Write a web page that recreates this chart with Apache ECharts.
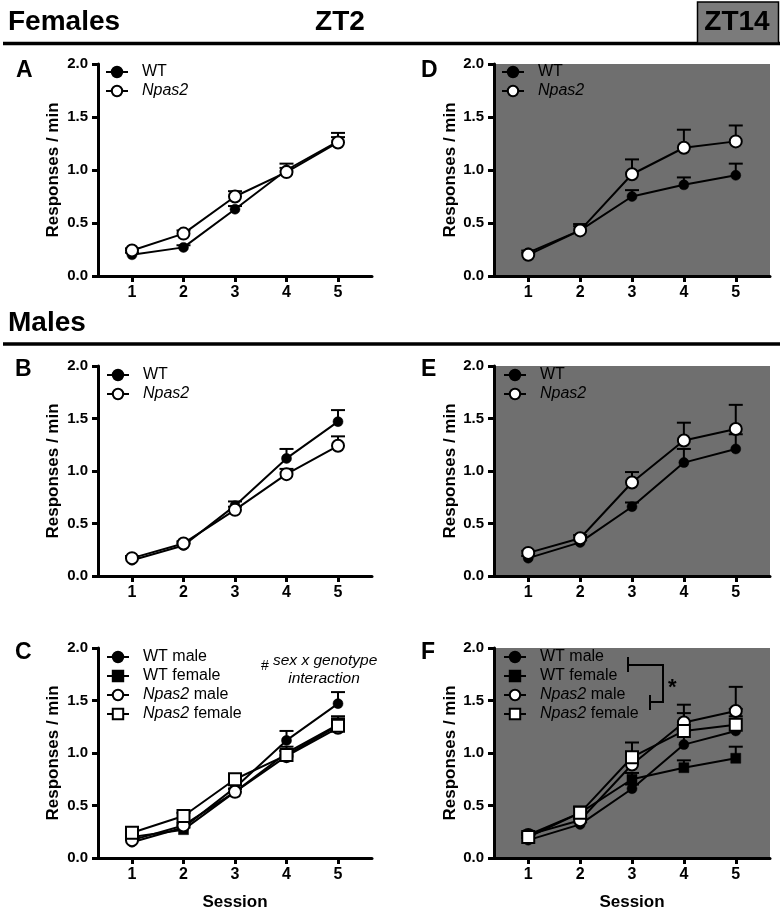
<!DOCTYPE html>
<html><head><meta charset="utf-8">
<script src="https://cdn.jsdelivr.net/npm/echarts@6/dist/echarts.min.js"></script>
<style>html,body{margin:0;padding:0;background:#fff}#c{width:780px;height:910px}</style>
</head><body><div id="c"></div>
<script>
// ---------- data ----------
const sessions = [1, 2, 3, 4, 5];
const xTickValues = [1, 2, 3, 4, 5];
const yMin = 0, yMax = 2, yStep = 0.5;
// Females ZT2 (panel A)
const fZT2_WT      = [0.20, 0.27, 0.63, 1.00, 1.27];
const fZT2_WT_sem  = [0.02, 0.02, 0.03, 0.06, 0.08];
const fZT2_Np      = [0.24, 0.40, 0.75, 0.98, 1.26];
const fZT2_Np_sem  = [0.02, 0.03, 0.05, 0.04, 0.05];
// Females ZT14 (panel D)
const fZT14_WT     = [0.22, 0.43, 0.75, 0.86, 0.95];
const fZT14_WT_sem = [0.02, 0.06, 0.06, 0.07, 0.11];
const fZT14_Np     = [0.20, 0.43, 0.96, 1.21, 1.27];
const fZT14_Np_sem = [0.02, 0.04, 0.14, 0.17, 0.15];
// Males ZT2 (panel B)
const mZT2_WT      = [0.15, 0.29, 0.67, 1.12, 1.47];
const mZT2_WT_sem  = [0.02, 0.02, 0.04, 0.09, 0.11];
const mZT2_Np      = [0.17, 0.31, 0.63, 0.97, 1.24];
const mZT2_Np_sem  = [0.02, 0.02, 0.03, 0.05, 0.09];
// Males ZT14 (panel E)
const mZT14_WT     = [0.17, 0.32, 0.66, 1.08, 1.21];
const mZT14_WT_sem = [0.02, 0.02, 0.04, 0.13, 0.14];
const mZT14_Np     = [0.22, 0.36, 0.89, 1.29, 1.40];
const mZT14_Np_sem = [0.02, 0.03, 0.10, 0.17, 0.23];

// ---------- styles ----------
const FONT = '"Liberation Sans", Arial, Helvetica, sans-serif';
const GRAY = '#6f6f6f';
const MARK = {
  wtCircle: { symbol: 'circle', size: 10, fill: '#000' },
  npCircle: { symbol: 'circle', size: 12, fill: '#fff' },
  wtSquare: { symbol: 'rect',   size: 10, fill: '#000' },
  npSquare: { symbol: 'rect',   size: 12, fill: '#fff' }
};

const panels = [
  { letter: 'A', grid: [98, 64, 274, 212], bg: false, legend: [105, 64], yGap: 36,
    series: [['WT', fZT2_WT, fZT2_WT_sem, 'wtCircle'], ['Npas2', fZT2_Np, fZT2_Np_sem, 'npCircle']] },
  { letter: 'D', grid: [494, 64, 276, 212], bg: true, legend: [501, 64], yGap: 35,
    series: [['WT', fZT14_WT, fZT14_WT_sem, 'wtCircle'], ['Npas2', fZT14_Np, fZT14_Np_sem, 'npCircle']] },
  { letter: 'B', grid: [98, 366, 274, 210], bg: false, legend: [106, 367], yGap: 36,
    series: [['WT', mZT2_WT, mZT2_WT_sem, 'wtCircle'], ['Npas2', mZT2_Np, mZT2_Np_sem, 'npCircle']] },
  { letter: 'E', grid: [494, 366, 276, 210], bg: true, legend: [503, 367], yGap: 35,
    series: [['WT', mZT14_WT, mZT14_WT_sem, 'wtCircle'], ['Npas2', mZT14_Np, mZT14_Np_sem, 'npCircle']] },
  { letter: 'C', grid: [98, 648, 274, 210], bg: false, legend: [106, 649], yGap: 36, session: true,
    series: [['WT male', mZT2_WT, mZT2_WT_sem, 'wtCircle'], ['WT female', fZT2_WT, fZT2_WT_sem, 'wtSquare'],
             ['Npas2 male', mZT2_Np, mZT2_Np_sem, 'npCircle'], ['Npas2 female', fZT2_Np, fZT2_Np_sem, 'npSquare']] },
  { letter: 'F', grid: [494, 648, 276, 210], bg: true, legend: [503, 649], yGap: 35, session: true,
    series: [['WT male', mZT14_WT, mZT14_WT_sem, 'wtCircle'], ['WT female', fZT14_WT, fZT14_WT_sem, 'wtSquare'],
             ['Npas2 male', mZT14_Np, mZT14_Np_sem, 'npCircle'], ['Npas2 female', fZT14_Np, fZT14_Np_sem, 'npSquare']] }
];

const grids = [], xAxes = [], yAxes = [], series = [], legends = [];
panels.forEach((p, gi) => {
  grids.push({ left: p.grid[0], top: p.grid[1], width: p.grid[2], height: p.grid[3],
    containLabel: false, outerBoundsMode: 'none',
    show: p.bg, backgroundColor: p.bg ? GRAY : 'transparent', borderWidth: 0 });
  xAxes.push({
    type: 'value', gridIndex: gi, min: 0.34, max: 5.66,
    name: p.session ? 'Session' : '', nameLocation: 'middle', nameGap: 36,
    nameTextStyle: { color: '#000', fontWeight: 'bold', fontSize: 17, fontFamily: FONT },
    axisLine: { show: true, onZero: false, lineStyle: { color: '#000', width: 3 } },
    axisTick: { show: true, customValues: xTickValues, length: 6, lineStyle: { color: '#000', width: 3 } },
    axisLabel: { customValues: xTickValues, color: '#000', fontWeight: 'bold', fontSize: 16, fontFamily: FONT, margin: 9 },
    splitLine: { show: false }
  });
  yAxes.push({
    type: 'value', gridIndex: gi, min: yMin, max: yMax, interval: yStep,
    name: 'Responses / min', nameLocation: 'middle', nameGap: p.yGap,
    nameTextStyle: { color: '#000', fontWeight: 'bold', fontSize: 17, fontFamily: FONT },
    axisLine: { show: true, lineStyle: { color: '#000', width: 3 } },
    axisTick: { show: true, length: 6, lineStyle: { color: '#000', width: 3 } },
    axisLabel: { color: '#000', fontWeight: 'bold', fontSize: 15, fontFamily: FONT, margin: 10,
      formatter: v => v.toFixed(1) },
    splitLine: { show: false }
  });
  p.series.forEach(([name, vals, sem, mk]) => {
    const m = MARK[mk];
    series.push({
      type: 'line', name: name, xAxisIndex: gi, yAxisIndex: gi, z: 3,
      data: sessions.map((s, i) => [s, vals[i]]),
      symbol: m.symbol, symbolSize: m.size, showSymbol: true,
      lineStyle: { color: '#000', width: 2 },
      itemStyle: { color: m.fill, borderColor: '#000', borderWidth: m.fill === '#fff' ? 2 : 0.5, opacity: 1 },
      emphasis: { disabled: true }, animation: false
    });
    series.push({
      type: 'custom', name: name + ' SEM', xAxisIndex: gi, yAxisIndex: gi, z: 1,
      data: sessions.map((s, i) => [s, vals[i], sem[i]]),
      renderItem: (params, api) => {
        const x = api.value(0), y = api.value(1), e = api.value(2);
        const p0 = api.coord([x, y]), p1 = api.coord([x, y + e]);
        return { type: 'group', children: [
          { type: 'line', shape: { x1: p0[0], y1: p0[1], x2: p1[0], y2: p1[1] }, style: { stroke: '#000', lineWidth: 2 } },
          { type: 'line', shape: { x1: p1[0] - 7, y1: p1[1], x2: p1[0] + 7, y2: p1[1] }, style: { stroke: '#000', lineWidth: 2 } }
        ]};
      },
      silent: true, legendHoverLink: false
    });
  });
  legends.push({
    data: p.series.map(s => s[0]), orient: 'vertical', left: p.legend[0], top: p.legend[1],
    itemWidth: 22, itemHeight: 13, itemGap: 3, padding: 0,
    selectedMode: false,
    textStyle: { color: '#000', fontSize: 16, fontFamily: FONT, lineHeight: 16, padding: [0, 0, 0, 9],
      rich: { i: { fontStyle: 'italic', fontSize: 16, fontFamily: FONT, color: '#000', lineHeight: 16 } } },
    formatter: n => n.replace('Npas2', '{i|Npas2}')
  });
});

// ---------- decorations ----------
const txt = (t, x, y, font, align, extra) => Object.assign({ type: 'text', x: x, y: y, silent: true,
  style: { text: t, font: font, fill: '#000', textAlign: align || 'left', textVerticalAlign: 'middle' } }, extra || {});
const BIG = 'bold 28px ' + FONT;
const LET = 'bold 23px ' + FONT;
const graphic = [
  { type: 'line', shape: { x1: 3, y1: 43.5, x2: 780, y2: 43.5 }, style: { stroke: '#000', lineWidth: 3.5 }, silent: true },
  { type: 'rect', shape: { x: 697.5, y: 2, width: 81, height: 41 }, style: { fill: '#7b7b7b', stroke: '#000', lineWidth: 1.5 }, silent: true },
  txt('Females', 8, 22.5, BIG),
  txt('ZT2', 340, 22.5, BIG, 'center'),
  txt('ZT14', 737, 22.5, BIG, 'center'),
  { type: 'line', shape: { x1: 3, y1: 344, x2: 780, y2: 344 }, style: { stroke: '#000', lineWidth: 3.5 }, silent: true },
  txt('Males', 8, 323, BIG),
  txt('A', 16, 71, LET), txt('D', 421, 71, LET),
  txt('B', 15, 370, LET), txt('E', 421, 370, LET),
  txt('C', 15, 653, LET), txt('F', 421, 653, LET),
  txt('#', 261, 666, '14px ' + FONT),
  txt('sex x genotype', 273, 661, 'italic 15.5px ' + FONT),
  txt('interaction', 324, 679, 'italic 15.5px ' + FONT, 'center'),
  { type: 'polyline', shape: { points: [[628, 657], [628, 672]] }, style: { stroke: '#000', lineWidth: 2, fill: null }, silent: true },
  { type: 'polyline', shape: { points: [[628, 665], [663, 665], [663, 702], [650, 702]] }, style: { stroke: '#000', lineWidth: 2, fill: null }, silent: true },
  { type: 'polyline', shape: { points: [[650, 695], [650, 710]] }, style: { stroke: '#000', lineWidth: 2, fill: null }, silent: true },
  txt('*', 668, 688, 'bold 22px ' + FONT)
];

const chart = echarts.init(document.getElementById('c'), null, { renderer: 'canvas' });
chart.setOption({
  animation: false, backgroundColor: '#fff',
  textStyle: { fontFamily: FONT },
  grid: grids, xAxis: xAxes, yAxis: yAxes, series: series, legend: legends, graphic: graphic
});
</script></body></html>
